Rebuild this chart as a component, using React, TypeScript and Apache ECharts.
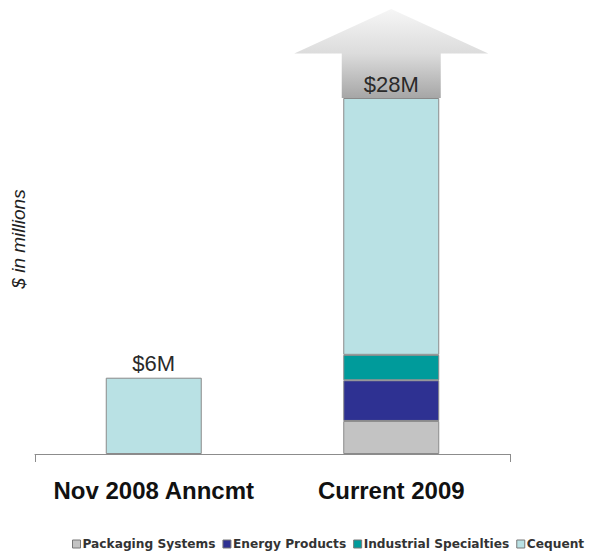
import React, { useEffect, useRef } from "react";
import * as echarts from "echarts";

const categories = ["Nov 2008 Anncmt", "Current 2009"];
const seriesNames = ["Packaging Systems", "Energy Products", "Industrial Specialties", "Cequent"];
const packaging = [0, 2.6];
const energy = [0, 3.2];
const industrial = [0, 2.0];
const cequent = [6, 20.2];
const totalLabels = ["$6M", "$28M"];
const arrowData = [[1, 28, 35, 31.5]];
const yMax = 35;

const colors = ["#c3c3c3", "#2e3192", "#009b9b", "#b9e1e4"];

export default function App() {
  const ref = useRef<HTMLDivElement>(null);
  useEffect(() => {
    if (!ref.current) return;
    const chart = echarts.init(ref.current, null, { renderer: "svg" });
    const values = [packaging, energy, industrial, cequent];
    const barSeries = seriesNames.map((name, i) => ({
      name,
      type: "bar",
      stack: "total",
      barWidth: 96,
      z: 3,
      data: values[i].map((v) => (v === 0 ? null : v)),
      itemStyle: { color: colors[i], borderColor: "#8a8a8a", borderWidth: 1 },
      label:
        i === 3
          ? {
              show: true,
              position: "top",
              distance: 3,
              formatter: (p: any) => totalLabels[p.dataIndex],
              fontFamily: "Liberation Sans, Arial, sans-serif",
              fontSize: 22,
              color: "#2a2a2a",
            }
          : { show: false },
    }));
    const arrowSeries = {
      type: "custom",
      z: 1,
      silent: true,
      data: arrowData,
      renderItem: (params: any, api: any) => {
        const base = api.coord([api.value(0), api.value(1)]);
        const tip = api.coord([api.value(0), api.value(2)]);
        const neck = api.coord([api.value(0), api.value(3)]);
        const cx = base[0];
        const sh = 49.5;
        const hh = 97;
        return {
          type: "polygon",
          shape: {
            points: [
              [cx - sh, base[1]],
              [cx - sh, neck[1]],
              [cx - hh, neck[1]],
              [cx, tip[1]],
              [cx + hh, neck[1]],
              [cx + sh, neck[1]],
              [cx + sh, base[1]],
            ],
          },
          style: {
            fill: new echarts.graphic.LinearGradient(0, 0, 0, 1, [
              { offset: 0, color: "#f6f6f6" },
              { offset: 0.5, color: "#dcdcdc" },
              { offset: 1, color: "#a6a6a6" },
            ]),
            stroke: "none",
          },
        };
      },
    };
    chart.setOption({
      animation: false,
      grid: { left: 27, right: 86, top: 1, bottom: 100 },
      legend: {
        data: seriesNames,
        left: 64,
        bottom: 4,
        width: 700,
        padding: 0,
        itemWidth: 8,
        itemHeight: 8,
        itemGap: 7,
        icon: "rect",
        itemStyle: { borderColor: "#777", borderWidth: 1 },
        textStyle: {
          fontFamily: "DejaVu Sans, sans-serif",
          fontWeight: "bold",
          fontSize: 12.2,
          color: "#333",
          padding: [0, 0, 0, -3],
        },
      },
      xAxis: {
        type: "category",
        data: categories,
        axisLine: { show: true, lineStyle: { color: "#8c8c8c", width: 1 } },
        axisTick: {
          show: true,
          length: 8,
          interval: (index: number) => index === 0,
          lineStyle: { color: "#8c8c8c" },
        },
        axisLabel: {
          interval: 0,
          hideOverlap: false,
          margin: 24,
          fontFamily: "Liberation Sans, Arial, sans-serif",
          fontWeight: "bold",
          fontSize: 24,
          color: "#111",
        },
      },
      yAxis: {
        type: "value",
        min: 0,
        max: yMax,
        show: false,
      },
      graphic: [
        {
          type: "text",
          x: 10,
          y: 231,
          rotation: Math.PI / 2,
          style: {
            text: "$ in millions",
            align: "center",
            verticalAlign: "middle",
            fontFamily: "Liberation Sans, Arial, sans-serif",
            fontStyle: "italic",
            fontSize: 19,
            fill: "#222",
          },
        },
      ],
      series: [arrowSeries, ...barSeries],
    });
    return () => chart.dispose();
  }, []);
  return <div ref={ref} style={{ width: 588, height: 546 }} />;
}
